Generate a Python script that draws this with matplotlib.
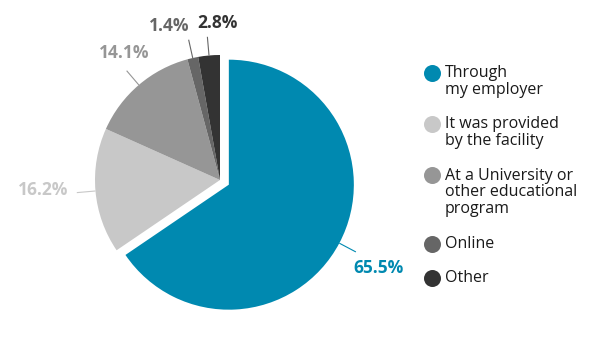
import numpy as np
import matplotlib
matplotlib.use("Agg")
import matplotlib.pyplot as plt

categories = ["Through\nmy employer", "It was provided\nby the facility",
              "At a University or\nother educational\nprogram", "Online", "Other"]
values = [65.5, 16.2, 14.1, 1.4, 2.8]
value_labels = ["65.5%", "16.2%", "14.1%", "1.4%", "2.8%"]
colors = ["#0089B0", "#C8C8C8", "#969696", "#666666", "#333333"]
explode = [0.08, 0, 0, 0, 0]

plt.rcParams['font.family'] = ['Open Sans', 'DejaVu Sans']

W, H = 601, 351
fig = plt.figure(figsize=(W / 100, H / 100), dpi=100)

R = 125.0
cx, cy = 220.0, 180.0
ax = fig.add_axes([0, 0, 440 / W, 1])
ax.axis('off')

wedges, _ = ax.pie(values, colors=colors, explode=explode, startangle=90,
                   counterclock=False, radius=1.0, center=(0, 0),
                   wedgeprops=dict(linewidth=0))
ax.set_xlim(-cx / R, (440 - cx) / R)
ax.set_ylim(-(H - cy) / R, cy / R)
ax.set_aspect('auto')

def fig_px(x, y):
    return (x / W, 1 - y / H)

# label positions (center x, center y in pixels)
label_pos = [(379, 268), (43, 190), (124, 53), (169, 26), (217, 23)]
fs_lab = 12.5
for w, c, e, (lx, ly), vl in zip(wedges, colors, explode, label_pos, value_labels):
    ang = np.deg2rad((w.theta1 + w.theta2) / 2)
    d = np.array([np.cos(ang), np.sin(ang)])
    p0 = d * (1.0 + e)
    p1 = d * (1.15 + e)
    ax.plot([p0[0], p1[0]], [p0[1], p1[1]], color=c if c != "#333333" else "#666666",
            lw=0.8, solid_capstyle='butt')
    fig.text(*fig_px(lx, ly), vl, color=c, fontsize=fs_lab, fontweight='bold',
             ha='center', va='center')

# legend drawn manually
leg_ax = fig.add_axes([0, 0, 1, 1])
leg_ax.set_xlim(0, W)
leg_ax.set_ylim(H, 0)
leg_ax.axis('off')
marker_y = [73, 124, 175, 244, 278]
line_pitch = 17.5
fs_leg = 11.5
for c, lab, my in zip(colors, categories, marker_y):
    leg_ax.scatter([432], [my], s=150, color=c, linewidths=0)
    n = lab.count("\n") + 1
    leg_ax.text(445, my + (n - 1) * line_pitch / 2, lab, fontsize=fs_leg, color="#1a1a1a",
                ha='left', va='center', linespacing=1.05)

fig.savefig("out.png", dpi=100)
